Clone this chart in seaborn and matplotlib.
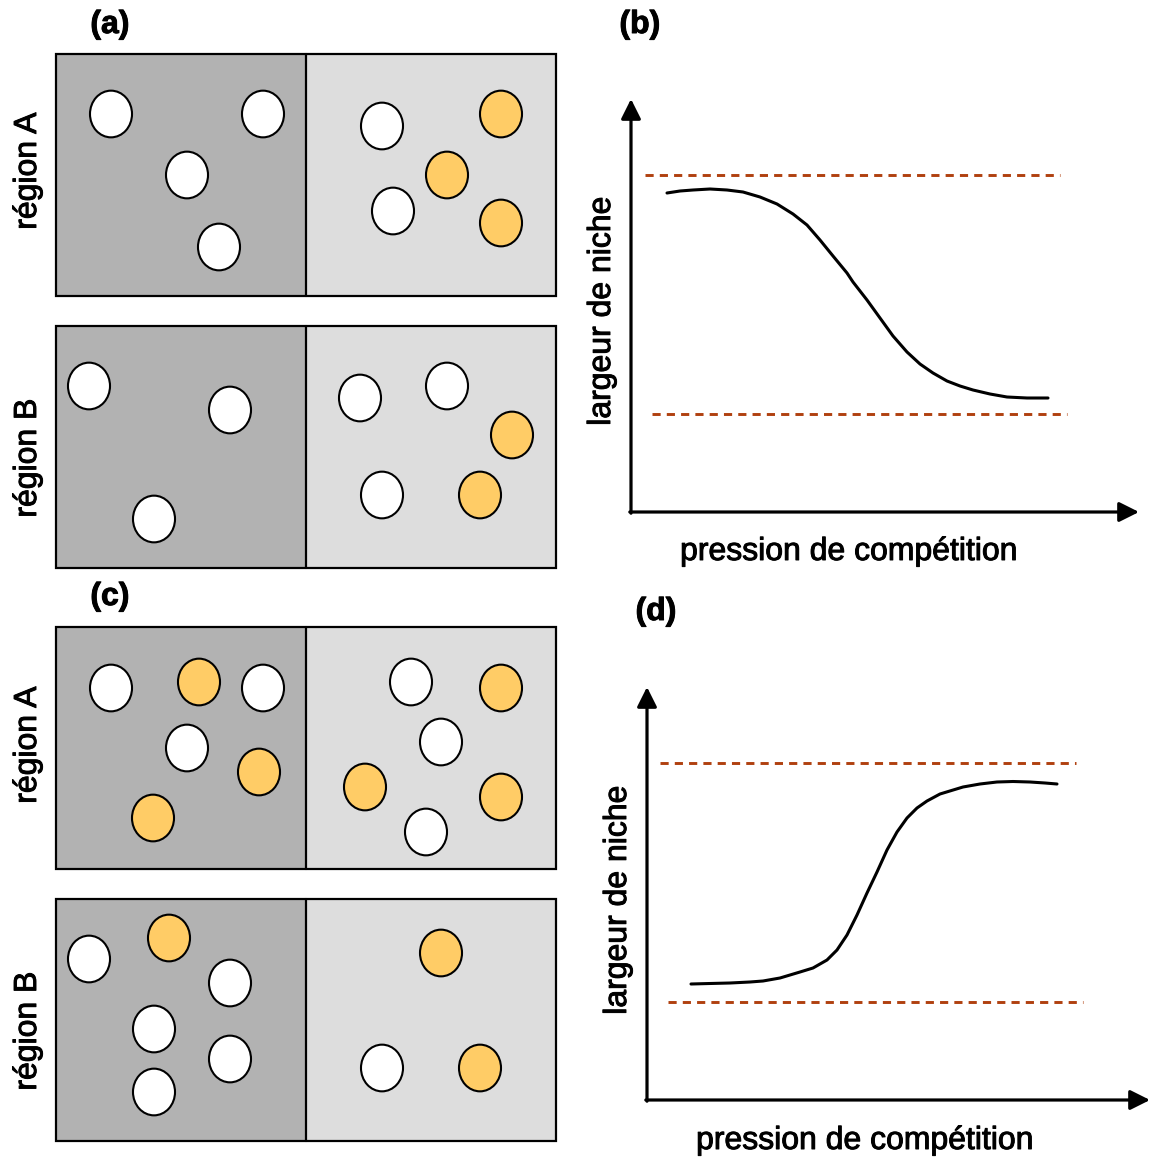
import numpy as np
import pandas as pd
import matplotlib
matplotlib.use("Agg")
import matplotlib.pyplot as plt
import matplotlib.patheffects as pe
import seaborn as sns
from matplotlib.path import Path
from matplotlib.patches import Rectangle

# ---------------------------------------------------------
# Data (pixel coordinates)
# ---------------------------------------------------------

# panel (a), region A
a_A_white_x = [111, 263, 187, 219, 382, 393]
a_A_white_y = [114, 114, 175, 247, 126, 211]
a_A_orange_x = [501, 447, 501]
a_A_orange_y = [114, 175, 223]

# panel (a), region B
a_B_white_x = [89, 230, 154, 360, 447, 382]
a_B_white_y = [386, 410, 519, 398, 386, 495]
a_B_orange_x = [512, 480]
a_B_orange_y = [435, 495]

# panel (c), region A
c_A_white_x = [111, 263, 187, 411, 441, 426]
c_A_white_y = [688, 688, 748, 682, 742, 832]
c_A_orange_x = [199, 259, 153, 501, 365, 501]
c_A_orange_y = [682, 772, 818, 688, 787, 797]

# panel (c), region B
c_B_white_x = [89, 230, 154, 230, 154, 382]
c_B_white_y = [959, 983, 1029, 1059, 1092, 1068]
c_B_orange_x = [169, 441, 480]
c_B_orange_y = [938, 953, 1068]

# curve (b): niche width decreasing with competition
curve_b_x = [667, 680, 693, 710, 727, 743, 760, 777, 793, 807, 820, 833, 847, 853,
             867, 880, 893, 907, 920, 933, 947, 960, 973, 990, 1007, 1027, 1048]
curve_b_y = [193, 191, 190, 189, 190, 192, 197, 204, 214, 225, 240, 256, 273, 282,
             300, 318, 336, 352, 364, 373, 381, 386, 390, 394, 397, 398, 398]

# curve (d): niche width increasing with competition
curve_d_x = [691, 710, 730, 750, 763, 780, 790, 800, 813, 827, 837, 847, 857, 867,
             877, 887, 897, 907, 917, 927, 940, 963, 980, 997, 1013, 1030, 1045, 1057]
curve_d_y = [984, 983.5, 983, 982, 981, 978, 975, 972, 968, 960, 950, 935, 915, 893,
             872, 850, 832, 818, 808, 801, 794, 787, 784, 782, 781.5, 782, 783, 784]

# dashed limits: (y, x start, x end)
limits_b = [(175, 645, 1060), (414, 652, 1067)]
limits_d = [(763, 660, 1076), (1002, 668, 1083)]

region_labels = ["région A", "région B"]
panel_labels = ["(a)", "(b)", "(c)", "(d)"]
ylabel_text = "largeur de niche"
xlabel_text = "pression de compétition"

# ---------------------------------------------------------
# Styling
# ---------------------------------------------------------
DARK = "#b2b2b2"
LIGHT = "#dddddd"
ORANGE = "#ffcc66"
RUST = "#b0400f"

sns.set_theme(style="white")
plt.rcParams["font.family"] = ["Liberation Sans", "DejaVu Sans"]
plt.rcParams["text.color"] = "black"

# a thin stroke gives the text the heavier look of the original
heavy = [pe.withStroke(linewidth=0.7, foreground="black")]

fig = plt.figure(figsize=(11.5, 11.6), dpi=100)
ax = fig.add_axes([0, 0, 1, 1])
ax.set_xlim(0, 1150)
ax.set_ylim(1160, 0)
ax.axis("off")

# slightly elliptical marker (taller than wide)
circ = Path.unit_circle()
ellipse = Path(circ.vertices * np.array([0.9, 1.0]), circ.codes)
MARKER_S = 1130


def draw_box(top):
    ax.add_patch(Rectangle((56, top), 250, 242, facecolor=DARK, edgecolor="none", zorder=1))
    ax.add_patch(Rectangle((306, top), 250, 242, facecolor=LIGHT, edgecolor="none", zorder=1))
    ax.add_patch(Rectangle((56, top), 500, 242, facecolor="none", edgecolor="black", lw=1.6, zorder=2))
    ax.plot([306, 306], [top, top + 242], color="black", lw=1.6, zorder=2)


def draw_dots(wx, wy, ox, oy):
    df = pd.DataFrame({
        "x": wx + ox,
        "y": wy + oy,
        "kind": ["white"] * len(wx) + ["orange"] * len(ox),
    })
    sns.scatterplot(data=df, x="x", y="y", hue="kind",
                    palette={"white": "white", "orange": ORANGE},
                    marker=ellipse, s=MARKER_S, edgecolor="black", linewidth=1.5,
                    legend=False, ax=ax, zorder=3)


for top in [54, 326, 627, 899]:
    draw_box(top)

draw_dots(a_A_white_x, a_A_white_y, a_A_orange_x, a_A_orange_y)
draw_dots(a_B_white_x, a_B_white_y, a_B_orange_x, a_B_orange_y)
draw_dots(c_A_white_x, c_A_white_y, c_A_orange_x, c_A_orange_y)
draw_dots(c_B_white_x, c_B_white_y, c_B_orange_x, c_B_orange_y)

# region labels
for label, yc in zip(region_labels * 2, [171, 458, 745, 1031]):
    ax.text(28, yc, label, rotation=90, ha="center", va="center", fontsize=23,
            color="black", path_effects=heavy)

# panel letters
for label, (xc, yc) in zip(panel_labels, [(110, 25), (640, 25), (110, 597), (656, 612)]):
    ax.text(xc, yc, label, ha="center", va="center", fontsize=23, fontweight="bold",
            color="black", path_effects=heavy)


def draw_graph(x0, y0, ytop, xright, cx, cy, limits, ylab_pos, xlab_pos):
    arrow = dict(arrowstyle="-|>", lw=2.3, color="black", mutation_scale=30,
                 shrinkA=0, shrinkB=0)
    ax.annotate("", xy=(x0, ytop), xytext=(x0, y0 + 1.2), arrowprops=arrow,
                annotation_clip=False)
    ax.annotate("", xy=(xright, y0), xytext=(x0 - 1.2, y0), arrowprops=arrow,
                annotation_clip=False)
    for yl, xs, xe in limits:
        ax.plot([xs, xe], [yl, yl], color=RUST, lw=2.1, dashes=(2.8, 2.1))
    sns.lineplot(x=cx, y=cy, sort=False, estimator=None, color="black", lw=2.2, ax=ax)
    ax.text(*ylab_pos, ylabel_text, rotation=90, ha="center", va="center", fontsize=23,
            color="black", path_effects=heavy)
    ax.text(*xlab_pos, xlabel_text, ha="center", va="center", fontsize=23,
            color="black", path_effects=heavy)


draw_graph(631, 512, 99, 1139, curve_b_x, curve_b_y, limits_b, (602, 311), (849, 552))
draw_graph(647, 1100, 687, 1150, curve_d_x, curve_d_y, limits_d, (618, 900), (865, 1141))

ax.set_xlim(0, 1150)
ax.set_ylim(1160, 0)
ax.set_xlabel("")
ax.set_ylabel("")

fig.savefig("out.png", dpi=100)
plt.close(fig)
